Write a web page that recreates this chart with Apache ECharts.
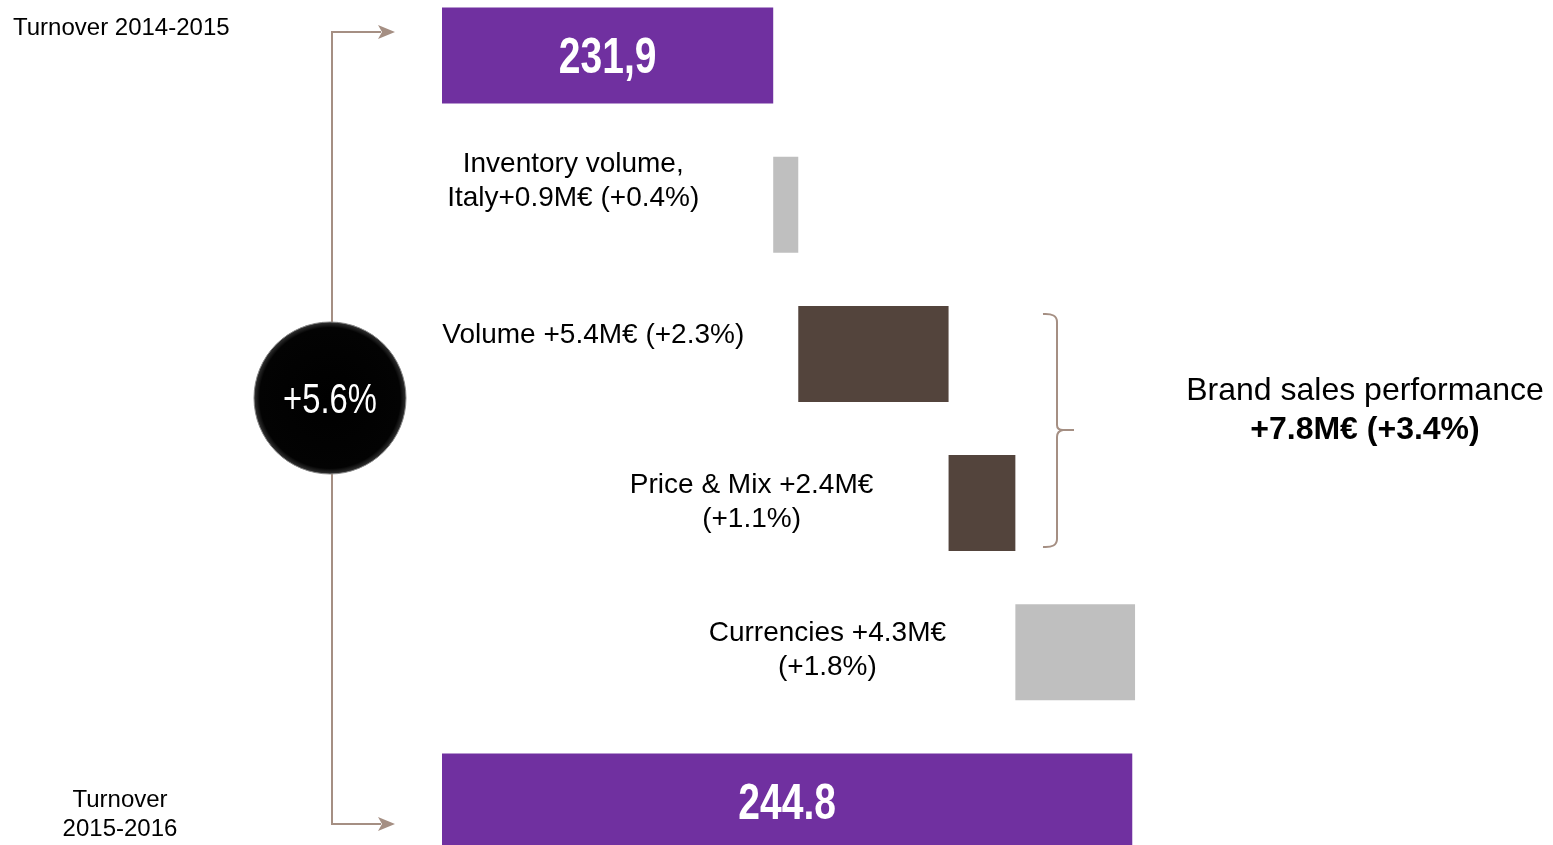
<!DOCTYPE html>
<html>
<head>
<meta charset="utf-8">
<title>Turnover bridge 2014-2015 to 2015-2016</title>
<script src="https://cdn.jsdelivr.net/npm/echarts@6/dist/echarts.min.js"></script>
<style>
  html, body { margin: 0; padding: 0; background: #ffffff; }
  #chart { width: 1553px; height: 845px; }
</style>
</head>
<body>
<div id="chart"></div>
<script>
// Turnover bridge: opening turnover, four drivers, closing turnover (M€)
const categories = ['Turnover 2014-2015', 'Inventory volume, Italy', 'Volume', 'Price & Mix', 'Currencies', 'Turnover 2015-2016'];
const values = [231.9, 0.9, 5.4, 2.4, 4.3, 244.8];
const percents = [null, 0.4, 2.3, 1.1, 1.8, null];
const kinds = ['total', 'other', 'brand', 'brand', 'other', 'total'];
const labelTemplates = [
  '{vc}',
  'Inventory volume,\nItaly+{v}M€ (+{p}%)',
  'Volume +{v}M€ (+{p}%)',
  'Price & Mix +{v}M€\n(+{p}%)',
  'Currencies +{v}M€\n(+{p}%)',
  '{v}'
];
const totalGrowth = '+5.6%';
const brandSummary = { title: 'Brand sales performance', value: '+7.8M€ (+3.4%)' };
const axisMin = 220;
const axisMax = 250;

// Styling
const colors = { total: '#7030a0', brand: '#53443c', other: '#bfbfbf' };
const lineColor = '#a58f83';
const sans = "'Liberation Sans', Arial, Helvetica, sans-serif";
const condense = 0.78; // horizontal squeeze giving a narrow face
// label anchors relative to the top-left corner of each driver bar
const labelAnchors = [null, [-200, 25], [-205, 29], [-197, 47], [-188, 46], null];

// Waterfall bases: totals start at the axis, drivers start where the previous one ended
const bases = [];
let running = values[0];
values.forEach((v, i) => {
  if (kinds[i] === 'total') { bases.push(0); }
  else { bases.push(running); running += v; }
});

function fill(tpl, v, p) {
  return tpl.replace('{vc}', v.toFixed(1).replace('.', ','))
            .replace('{v}', v.toFixed(1))
            .replace('{p}', p == null ? '' : p.toFixed(1));
}

const barData = values.map((v, i) => {
  const isTotal = kinds[i] === 'total';
  return {
    value: v,
    itemStyle: { color: colors[kinds[i]] },
    label: isTotal ? { show: false } : {
      show: true,
      position: labelAnchors[i],
      align: 'center',
      verticalAlign: 'middle',
      formatter: fill(labelTemplates[i], v, percents[i]),
      color: '#000000',
      fontFamily: sans,
      fontSize: 28,
      lineHeight: 34
    }
  };
});

// value labels of the two turnover bars, centred on each bar
const totalLabelData = [];
values.forEach((v, i) => {
  if (kinds[i] === 'total') totalLabelData.push([v, i, fill(labelTemplates[i], v, null)]);
});

const chart = echarts.init(document.getElementById('chart'), null, { renderer: 'canvas' });

function hLine(x1, y1, x2, y2) {
  return { type: 'line', z: 10, shape: { x1, y1, x2, y2 }, style: { stroke: lineColor, lineWidth: 2 } };
}
function qCurve(x1, y1, cx, cy, x2, y2) {
  return {
    type: 'bezierCurve', z: 10,
    shape: { x1, y1, cpx1: cx, cpy1: cy, x2, y2 },
    style: { stroke: lineColor, lineWidth: 2, fill: null }
  };
}

chart.setOption({
  animation: false,
  backgroundColor: '#ffffff',
  grid: { left: 442, width: 835, top: -19, height: 895, containLabel: false, outerBoundsMode: 'none' },
  xAxis: { type: 'value', min: axisMin, max: axisMax, show: false },
  yAxis: { type: 'category', data: categories, inverse: true, show: false },
  series: [
    {
      type: 'bar', stack: 'bridge', data: bases, barWidth: 96,
      itemStyle: { color: 'transparent' }, silent: true
    },
    {
      type: 'bar', stack: 'bridge', data: barData, barWidth: 96
    },
    {
      type: 'custom', data: totalLabelData, z: 5, silent: true,
      renderItem: function (params, api) {
        const v = api.value(0);
        const i = api.value(1);
        const pt = api.coord([(axisMin + v) / 2, i]);
        return {
          type: 'text',
          x: pt[0], y: pt[1] + 4, scaleX: condense,
          style: {
            text: totalLabelData[params.dataIndex][2],
            align: 'center', verticalAlign: 'middle',
            fill: '#ffffff', font: 'bold 50px ' + sans
          }
        };
      }
    }
  ],
  graphic: [
    // bracket joining the two turnover years
    {
      type: 'polyline', z: 10,
      shape: { points: [[381, 32], [332, 32], [332, 824], [381, 824]] },
      style: { stroke: lineColor, lineWidth: 2, fill: null }
    },
    {
      type: 'polygon', z: 10,
      shape: { points: [[378, 25], [395, 32], [378, 39], [382, 32]] },
      style: { fill: lineColor }
    },
    {
      type: 'polygon', z: 10,
      shape: { points: [[378, 817], [395, 824], [378, 831], [382, 824]] },
      style: { fill: lineColor }
    },
    {
      type: 'circle', z: 11,
      shape: { cx: 330, cy: 398, r: 76 },
      style: {
        fill: new echarts.graphic.RadialGradient(0.5, 0.5, 0.5, [
          { offset: 0, color: '#000000' },
          { offset: 0.92, color: '#030303' },
          { offset: 0.98, color: '#2a2a2a' },
          { offset: 1, color: '#111111' }
        ]),
        stroke: '#8a8a8a', lineWidth: 1
      }
    },
    {
      type: 'text', z: 12, x: 330, y: 401, scaleX: condense,
      style: {
        text: totalGrowth, x: 0, y: 0, align: 'center', verticalAlign: 'middle',
        fill: '#ffffff', font: '42px ' + sans
      }
    },
    // brace grouping the brand drivers
    qCurve(1043, 314, 1057, 313, 1057, 322),
    hLine(1057, 322, 1057, 425),
    qCurve(1057, 425, 1057, 430, 1063, 430),
    hLine(1063, 430, 1074, 430),
    qCurve(1063, 430, 1057, 431, 1057, 437),
    hLine(1057, 437, 1057, 539),
    qCurve(1057, 539, 1057, 548, 1043, 547),
    {
      type: 'text', z: 10,
      style: {
        text: '{t|' + brandSummary.title + '}\n{b|' + brandSummary.value + '}',
        x: 1365, y: 411, align: 'center', verticalAlign: 'middle',
        rich: {
          t: { fontFamily: sans, fontSize: 32, lineHeight: 39, fill: '#000000', align: 'center' },
          b: { fontFamily: sans, fontSize: 32, fontWeight: 'bold', lineHeight: 39, fill: '#000000', align: 'center' }
        }
      }
    },
    // year captions
    {
      type: 'text', z: 10,
      style: {
        text: categories[0], x: 13, y: 28, align: 'left', verticalAlign: 'middle',
        fill: '#000000', font: '24px ' + sans
      }
    },
    {
      type: 'text', z: 10,
      style: {
        text: 'Turnover\n2015-2016', x: 120, y: 815, align: 'center', verticalAlign: 'middle',
        fill: '#000000', font: '24px ' + sans, lineHeight: 29
      }
    }
  ]
});
</script>
</body>
</html>
